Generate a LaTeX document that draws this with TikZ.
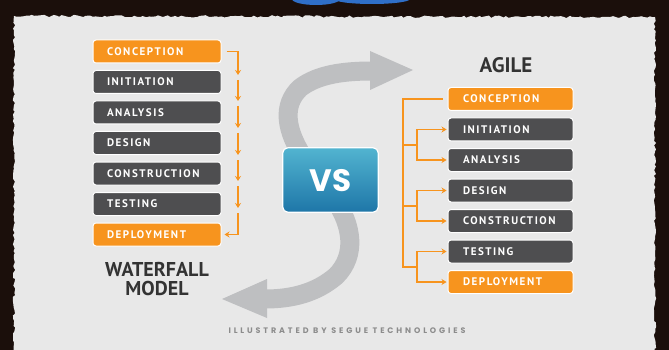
\documentclass[tikz,border=0pt]{standalone}
\usepackage{fontspec}
\usetikzlibrary{calc,arrows.meta,decorations.pathmorphing,shadings}
\newfontfamily\boxfont[LetterSpace=14]{PT Sans}
\newfontfamily\titlefont{PT Sans}
\newfontfamily\vsfont{Poppins}
\newfontfamily\smallfont[LetterSpace=36]{Poppins}
\definecolor{frame}{HTML}{1B0F0B}
\definecolor{panel}{HTML}{E8E8E8}
\definecolor{orng}{HTML}{F7941E}
\definecolor{darkbox}{HTML}{4E4E50}
\definecolor{sarrow}{HTML}{BEBFC1}
\definecolor{ttl}{HTML}{333333}
\definecolor{blob}{HTML}{2F6FC8}
\tikzset{
  stage/.style={draw=white, line width=1pt, rounded corners=3pt, minimum height=23pt,
     inner xsep=14pt, inner ysep=0pt, align=left, text=white,
     font=\boxfont\bfseries\fontsize{11}{11}\selectfont},
  lstage/.style={stage, text width=100pt},
  rstage/.style={stage, text width=95pt, inner xsep=15pt},
  ostage/.style={fill=orng},
  dstage/.style={fill=darkbox},
  oline/.style={draw=orng, line width=1.5pt},
  oarr/.style={oline, -{Stealth[length=5pt,width=6pt]}},
  title/.style={text=ttl, font=\titlefont\bfseries\fontsize{20}{19}\selectfont, align=center},
}
\begin{document}
\begin{tikzpicture}[x=1pt,y=-1pt]
\useasboundingbox (0,0) rectangle (669,350);
% frame and panel
\fill[frame] (0,0) rectangle (669,350);
\begin{scope}
\clip (0,0) rectangle (669,350);
\fill[blob] (316,-1) ellipse [x radius=24, y radius=6];
\fill[blob] (372,-1) ellipse [x radius=38, y radius=5];
\end{scope}
\fill[panel, decorate, decoration={random steps, segment length=3pt, amplitude=1.2pt}]
  (14,16) -- (655,17) -- (655,355) -- (14,355) -- cycle;

% S-shaped gray arrows
\draw[sarrow, line width=19pt] (305,160) .. controls (285,130) and (282,105) .. (300,88)
   .. controls (318,74) and (345,71) .. (372,71);
\fill[sarrow] (370,51) -- (413,70) -- (370,90) -- cycle;
\draw[sarrow, line width=19pt] (335,200) .. controls (352,225) and (357,255) .. (336,276)
   .. controls (316,293) and (292,299) .. (265,299);
\fill[sarrow] (267,279) -- (222,299) -- (267,318) -- cycle;

% VS box
\node[minimum width=95pt, minimum height=64pt, inner sep=0pt] (vs) at (330.5,180) {};
\shade[top color={rgb,255:red,82;green,180;blue,208}, bottom color={rgb,255:red,30;green,118;blue,168},
      rounded corners=5pt] (vs.south west) rectangle (vs.north east);
\draw[white, line width=1.2pt, rounded corners=5pt] (vs.south west) rectangle (vs.north east);
\node[text=white, font=\vsfont\bfseries\fontsize{31}{31}\selectfont] (vstext) at (330.5,181) {VS};

% Waterfall column
\node[lstage, ostage] (L1) at (157,51.5) {CONCEPTION};
\node[lstage, dstage] (L2) at (157,82) {INITIATION};
\node[lstage, dstage] (L3) at (157,112.5) {ANALYSIS};
\node[lstage, dstage] (L4) at (157,143) {DESIGN};
\node[lstage, dstage] (L5) at (157,173.5) {CONSTRUCTION};
\node[lstage, dstage] (L6) at (157,204) {TESTING};
\node[lstage, ostage] (L7) at (157,234.5) {DEPLOYMENT};

\coordinate (w1) at (238,75);
\draw[oarr] ($(L1.east)+(5,0)$) -| (w1);
\coordinate (w2s) at (238,80);  \coordinate (w2) at (238,101);
\coordinate (w3s) at (238,106); \coordinate (w3) at (238,128);
\coordinate (w4s) at (238,133); \coordinate (w4) at (238,155);
\coordinate (w5s) at (238,160); \coordinate (w5) at (238,181);
\coordinate (w6s) at (238,186); \coordinate (w6) at (238,208);
\coordinate (w7s) at (238,213);
\draw[oarr] (w2s) -- (w2);
\draw[oarr] (w3s) -- (w3);
\draw[oarr] (w4s) -- (w4);
\draw[oarr] (w5s) -- (w5);
\draw[oarr] (w6s) -- (w6);
\draw[oarr] (w7s) |- ($(L7.east)+(3,0)$);

\node[title] (wf) at (157,279) {WATERFALL\\MODEL};

% Agile column
\node[title, font=\titlefont\bfseries\fontsize{21}{21}\selectfont] (ag) at (506,65) {AGILE};
\node[rstage, ostage] (R1) at (510.5,99) {CONCEPTION};
\node[rstage, dstage] (R2) at (510.5,129.5) {INITIATION};
\node[rstage, dstage] (R3) at (510.5,160) {ANALYSIS};
\node[rstage, dstage] (R4) at (510.5,190.5) {DESIGN};
\node[rstage, dstage] (R5) at (510.5,221) {CONSTRUCTION};
\node[rstage, dstage] (R6) at (510.5,251.5) {TESTING};
\node[rstage, ostage] (R7) at (510.5,282) {DEPLOYMENT};

\coordinate (mb) at (403,266.75);
\coordinate (j1) at (417,144.75);
\coordinate (j2) at (417,205.75);
\coordinate (j3) at (417,266.75);
\draw[oline] ($(R1.west)+(-5,0)$) -| (mb) -- (j3);
\draw[oline] (403,144.75) -- (j1);
\draw[oline] (403,205.75) -- (j2);
\draw[oarr] (j1) |- ($(R2.west)+(-1,0)$);
\draw[oarr] (j1) |- ($(R3.west)+(-1,0)$);
\draw[oarr] (j2) |- ($(R4.west)+(-1,0)$);
\draw[oarr] (j2) |- ($(R5.west)+(-1,0)$);
\draw[oarr] (j3) |- ($(R6.west)+(-1,0)$);
\draw[oarr] (j3) |- ($(R7.west)+(-1,0)$);

% credit
\node[text=black!45, font=\smallfont\bfseries\fontsize{8}{8}\selectfont] (cr) at (347,331) {ILLUSTRATED BY SEGUE TECHNOLOGIES};
\end{tikzpicture}
\end{document}
